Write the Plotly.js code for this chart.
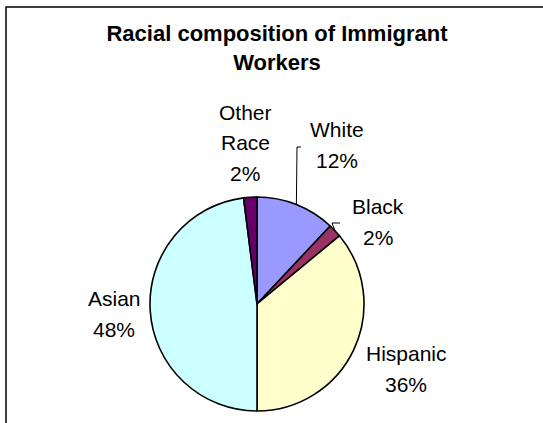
<!DOCTYPE html>
<html>
<head>
<meta charset="utf-8">
<script src="https://cdn.plot.ly/plotly-3.0.1.min.js"></script>
<style>
  html, body { margin: 0; padding: 0; background: #fff; }
  #chart { width: 543px; height: 423px; }
</style>
</head>
<body>
<div id="chart"></div>
<script>
// ---- data ----
const categories = ['White', 'Black', 'Hispanic', 'Asian', 'Other Race'];
const shares = [12, 2, 36, 48, 2];
const chartTitle = 'Racial composition of Immigrant<br>Workers';

// ---- style / layout config ----
const W = 543, H = 423;
const sliceColors = ['#9999FF', '#993366', '#FFFFCC', '#CCFFFF', '#660066'];
const FONT = 'Arial, "Liberation Sans", sans-serif';
const pie = { cx: 257, cy: 304, r: 107 };           // pixel geometry of the pie
const lineGap = 30.5;                                 // label line spacing (px)
// label block centres, relative to pie centre (px); leader: elbow offset from label centre
const labelPlacement = {
  'White':      { dx: 80,   dy: -159, leader: { ex: -36, ey: 2, tick: 4 } },
  'Black':      { dx: 121,  dy: -82,  leader: { ex: -38, ey: 1, tick: 8 } },
  'Hispanic':   { dx: 149,  dy: 65 },
  'Asian':      { dx: -143, dy: 10 },
  'Other Race': { dx: -12,  dy: -161 }
};

const px = x => x / W;
const py = y => 1 - y / H;

const total = shares.reduce((a, b) => a + b, 0);
const pctText = shares.map(v => Math.round(v / total * 100) + '%');

const annotations = [];
const shapes = [];

// chart-area border (open on right/bottom as in the crop)
shapes.push({
  type: 'rect', xref: 'paper', yref: 'paper',
  x0: px(6), y0: py(H + 20), x1: px(W + 20), y1: py(7),
  line: { color: '#000', width: 1.5 }, fillcolor: 'rgba(0,0,0,0)'
});

let cum = 0;
categories.forEach((name, i) => {
  const frac = shares[i] / total;
  const mid = (cum + frac / 2) * 2 * Math.PI;   // clockwise from 12 o'clock
  cum += frac;
  const pl = labelPlacement[name];
  const lx = pie.cx + pl.dx, ly = pie.cy + pl.dy;
  const lines = name.split(' ').concat([pctText[i]]);
  lines.forEach((t, k) => {
    const y = ly + (k - (lines.length - 1) / 2) * lineGap;
    annotations.push({
      xref: 'paper', yref: 'paper', x: px(lx), y: py(y),
      xanchor: 'center', yanchor: 'middle', showarrow: false,
      text: t, font: { family: FONT, size: 21, color: '#000' }
    });
  });
  if (pl.leader) {
    const sx = pie.cx + pie.r * Math.sin(mid);
    const sy = pie.cy - pie.r * Math.cos(mid);
    const ex = lx + pl.leader.ex, ey = ly + pl.leader.ey;
    shapes.push({
      type: 'path', xref: 'paper', yref: 'paper',
      path: `M ${px(sx)} ${py(sy)} L ${px(ex - pl.leader.tick)} ${py(ey)} L ${px(ex)} ${py(ey)}`,
      line: { color: '#000', width: 1 }
    });
  }
});

const trace = {
  type: 'pie',
  labels: categories,
  values: shares,
  sort: false,
  direction: 'clockwise',
  rotation: 0,
  textinfo: 'none',
  hoverinfo: 'label+percent',
  showlegend: false,
  marker: { colors: sliceColors, line: { color: '#000', width: 1.6 } },
  domain: {
    x: [px(pie.cx - pie.r), px(pie.cx + pie.r)],
    y: [py(pie.cy + pie.r), py(pie.cy - pie.r)]
  }
};

const layout = {
  width: W, height: H,
  margin: { l: 0, r: 0, t: 0, b: 0 },
  paper_bgcolor: '#fff',
  plot_bgcolor: '#fff',
  title: {
    text: chartTitle,
    font: { family: FONT, size: 22, color: '#000', weight: 'bold' },
    x: px(277), xanchor: 'center', xref: 'paper',
    y: py(41), yanchor: 'middle', yref: 'container'
  },
  annotations: annotations,
  shapes: shapes
};

Plotly.newPlot('chart', [trace], layout, { staticPlot: true, displayModeBar: false });
</script>
</body>
</html>
